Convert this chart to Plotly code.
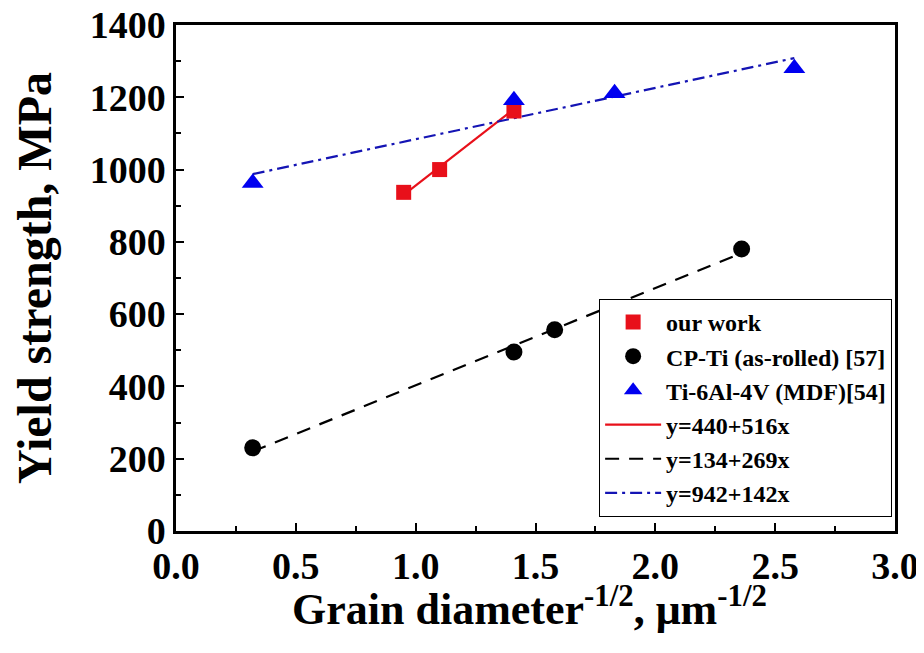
import plotly.graph_objects as go

# ---- data ----
our_x = [0.95, 1.10, 1.41]
our_y = [937, 1000, 1162]

cp_x = [0.32, 1.41, 1.58, 2.36]
cp_y = [230, 495, 557, 780]

ti_x = [0.32, 1.41, 1.83, 2.58]
ti_y = [963, 1192, 1211, 1280]

series_names = ["our work", "CP-Ti (as-rolled) [57]", "Ti-6Al-4V (MDF)[54]"]
fit_intercepts = [440, 134, 942]
fit_slopes = [516, 269, 142]
fit_names = ["y=440+516x", "y=134+269x", "y=942+142x"]

x_ticks = [0.0, 0.5, 1.0, 1.5, 2.0, 2.5, 3.0]
y_ticks = [0, 200, 400, 600, 800, 1000, 1200, 1400]

FONT = "Liberation Serif, Times New Roman, serif"
RED = "#E8101A"
BLACK = "#000000"
BLUE = "#0000F0"
NAVY = "#1414B4"

xs_all = [our_x, cp_x, ti_x]
ys_all = [our_y, cp_y, ti_y]
colors = [RED, BLACK, BLUE]
symbols = ["square", "circle", "triangle-up"]
sizes = [15, 17, 19]
line_colors = [RED, BLACK, NAVY]
dashes = ["solid", "14px,10px", "12px,5px,3px,5px"]

line_traces = []
for i, (xs, b, m, name, lc, d) in enumerate(zip(xs_all, fit_intercepts, fit_slopes, fit_names, line_colors, dashes)):
    x0, x1 = min(xs), max(xs)
    line_traces.append(go.Scatter(
        x=[x0, x1], y=[b + m * x0, b + m * x1], mode="lines", name=name,
        line=dict(color=lc, width=2.2, dash=d), legendrank=4 + i))

marker_traces = []
for i, (xs, ys, name, c, s, sz) in enumerate(zip(xs_all, ys_all, series_names, colors, symbols, sizes)):
    marker_traces.append(go.Scatter(
        x=xs, y=ys, mode="markers", name=name,
        marker=dict(color=c, symbol=s, size=sz, line=dict(width=0)), legendrank=1 + i))

fig = go.Figure(data=line_traces + marker_traces)

axis_common = dict(
    showline=True, linecolor="black", linewidth=2.5, mirror=True,
    ticks="inside", ticklen=8, tickwidth=2, tickcolor="black",
    showgrid=False, zeroline=False, automargin=False,
    ticklabeloverflow="allow",
    tickfont=dict(family=FONT, size=38, color="black", weight="bold"),
)

# the page body has an 8px default margin, so the figure is sized to fit the window
fig.update_layout(
    width=916, height=645,
    margin=dict(l=168, r=29, t=17, b=122),
    paper_bgcolor="white", plot_bgcolor="white",
    font=dict(family=FONT, color="black", weight="bold"),
    showlegend=True,
    legend=dict(
        x=0.996, y=0.028, xanchor="right", yanchor="bottom",
        bordercolor="black", borderwidth=1, bgcolor="white",
        font=dict(family=FONT, size=24, color="black", weight="bold"),
        tracegroupgap=0, itemwidth=56,
    ),
    xaxis=dict(
        range=[0, 3.0], tickvals=x_ticks, tickformat=".1f",
        minor=dict(dtick=0.25, ticks="inside", ticklen=5, tickwidth=2, tickcolor="black"),
        **axis_common,
    ),
    yaxis=dict(
        range=[0, 1400], tickvals=y_ticks,
        minor=dict(dtick=100, ticks="inside", ticklen=5, tickwidth=2, tickcolor="black"),
        title=dict(text="Yield strength, MPa",
                   font=dict(family=FONT, size=48, color="black", weight="bold"), standoff=24),
        **axis_common,
    ),
    annotations=[dict(
        text="Grain diameter<sup>-1/2</sup>, \u03bcm<sup>-1/2</sup>",
        xref="paper", yref="paper", x=0.492, y=-0.15,
        xanchor="center", yanchor="middle", showarrow=False,
        font=dict(family=FONT, size=44, color="black", weight="bold"),
    )],
)

fig.write_html("out.html")
